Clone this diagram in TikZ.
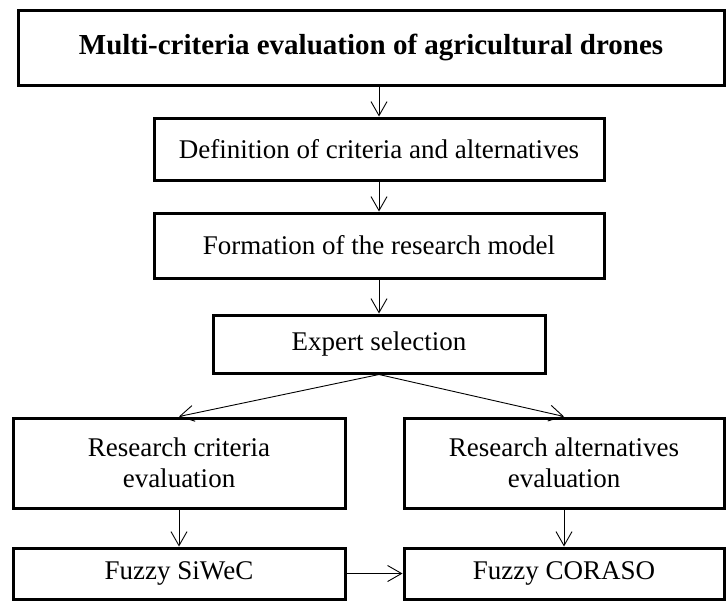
\documentclass[tikz,border=0pt]{standalone}
\usepackage{fontspec}
\setmainfont{Liberation Serif}
\usetikzlibrary{arrows.meta, positioning}
\tikzstyle{flow}=[>={Straight Barb[length=14pt,width=16pt]}, line width=0.9pt]
\tikzstyle{stage}=[draw, line width=3pt, align=center, inner sep=0pt, font=\fontsize{27}{31}\selectfont]

\begin{document}
\begin{tikzpicture}[flow]
  \useasboundingbox (0,0) rectangle (726pt,-603pt);
  \node[stage, minimum width=706pt, minimum height=75pt, font=\fontsize{29}{33}\selectfont\bfseries] (goal) at (371pt,-47.5pt) {Multi-criteria evaluation of agricultural drones};
  \node[stage, minimum width=450pt, minimum height=62pt] (define) [below=30pt of goal, xshift=8pt] {Definition of criteria and alternatives};
  \node[stage, minimum width=450pt, minimum height=65pt] (model) [below=30pt of define] {Formation of the research model};
  \node[stage, minimum width=332pt, minimum height=58pt] (expert) [below=34pt of model] {Expert selection};
  \node[stage, minimum width=332pt, minimum height=90pt] (crit) [below=42pt of expert, xshift=-200pt] {Research criteria\\evaluation};
  \node[stage, minimum width=320pt, minimum height=90pt] (alt) [below=42pt of expert, xshift=185pt] {Research alternatives\\evaluation};
  \node[stage, minimum width=332pt, minimum height=51pt] (siwec) [below=37pt of crit] {Fuzzy SiWeC};
  \node[stage, minimum width=320pt, minimum height=51pt] (coraso) [below=37pt of alt] {Fuzzy CORASO};
  \draw[->] (define.north |- goal.south) -- (define.north);
  \draw[->] (define) -- (model);
  \draw[->] (model) -- (expert);
  \draw[->] (expert.south) -- (crit.north);
  \draw[->] (expert.south) -- (alt.north);
  \draw[->] (crit) -- (siwec);
  \draw[->] (alt) -- (coraso);
  \draw[->] (siwec) -- (coraso);
\end{tikzpicture}
\end{document}
